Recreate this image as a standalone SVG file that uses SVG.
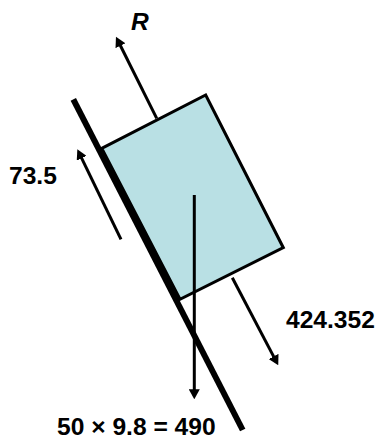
<svg xmlns="http://www.w3.org/2000/svg" width="380" height="439" viewBox="0 0 380 439">
<defs>
<style>
.lbl{font-family:"Liberation Sans",Arial,sans-serif;font-weight:bold;font-size:24.6px;fill:#000}
.arr{stroke:#000;stroke-width:3;fill:none;marker-end:url(#ah)}
</style>
<marker id="ah" markerUnits="userSpaceOnUse" viewBox="0 0 10 11" markerWidth="10" markerHeight="11" refX="3" refY="5.5" orient="auto">
<path d="M0,0 L10,5.5 L0,11 Z" fill="#000"/>
</marker>
</defs>
<rect width="380" height="439" fill="#fff"/>
<g id="block">
<polygon points="101.7,148.3 205.7,95 283.3,247.7 180,299.3" fill="#B9E0E4" stroke="#000" stroke-width="3" stroke-linejoin="miter"/>
</g>
<g id="slope">
<line x1="73.3" y1="99.3" x2="242.7" y2="430" stroke="#000" stroke-width="6"/>
</g>
<g id="connectors">
<line class="arr" x1="156.7" y1="118.3" x2="119.1" y2="43"/>
<line class="arr" x1="121" y1="239.3" x2="80.4" y2="155.6"/>
<line class="arr" x1="232.3" y1="277.7" x2="275" y2="359.1"/>
<line class="arr" x1="194.3" y1="195" x2="194.3" y2="392.3"/>
</g>
<g id="label-R"><text class="lbl" x="131" y="29.5" font-style="italic" font-size="22">R</text></g>
<g id="label-friction"><text class="lbl" x="9" y="183.5">73.5</text></g>
<g id="label-normal"><text class="lbl" x="286" y="328">424.352</text></g>
<g id="label-weight"><text class="lbl" x="57" y="435">50 × 9.8 = 490</text></g>
</svg>
